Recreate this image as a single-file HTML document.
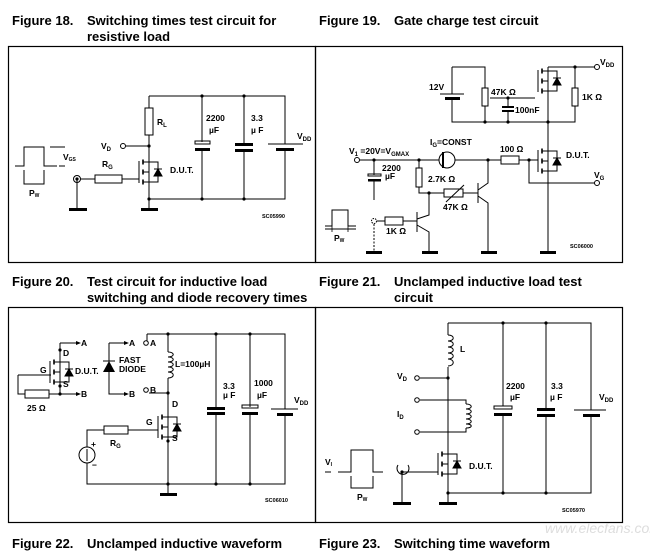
<!DOCTYPE html>
<html><head><meta charset="utf-8"><style>
body{margin:0;background:#fff;width:650px;height:555px;overflow:hidden}
svg{display:block}
.cap{font:bold 13px "Liberation Sans",sans-serif;fill:#000}
.l{font:bold 8.5px "Liberation Sans",sans-serif;fill:#000}
.s{font:bold 5.5px "Liberation Sans",sans-serif;fill:#000}
</style></head><body>
<svg width="650" height="555" viewBox="0 0 650 555" xmlns="http://www.w3.org/2000/svg">
<defs>
<g id="fet" fill="none" stroke="#000" stroke-width="1">
 <path d="M0,0V4H-6M-6,24H0V28M0,4V24M-6,14H0"/>
 <path d="M-6,1.5V6.5M-6,11.5V16.5M-6,21.5V26.5" stroke-width="1.6"/>
 <path d="M-10,3V25"/>
 <path d="M0,4H9V24H0"/>
 <path d="M5,18H13L9,11Z" fill="#000"/>
 <path d="M5,11H13"/>
</g>
<g id="dot"><circle r="1.6" fill="#000"/></g>
</defs>
<g fill="none" stroke="#000" stroke-width="1.2">
 <rect x="8.5" y="46.5" width="307" height="216"/>
 <rect x="315.5" y="46.5" width="307" height="216"/>
 <rect x="8.5" y="307.5" width="307" height="215"/>
 <rect x="315.5" y="307.5" width="307" height="215"/>
</g>
<text class="cap" x="12" y="25">Figure 18.</text><text class="cap" x="87" y="25">Switching times test circuit for</text>
<text class="cap" x="87" y="41">resistive load</text>
<text class="cap" x="319" y="25">Figure 19.</text><text class="cap" x="394" y="25">Gate charge test circuit</text>
<text class="cap" x="12" y="286">Figure 20.</text><text class="cap" x="87" y="286">Test circuit for inductive load</text>
<text class="cap" x="87" y="302">switching and diode recovery times</text>
<text class="cap" x="319" y="286">Figure 21.</text><text class="cap" x="394" y="286">Unclamped inductive load test</text>
<text class="cap" x="394" y="302">circuit</text>
<text class="cap" x="12" y="548">Figure 22.</text><text class="cap" x="87" y="548">Unclamped inductive waveform</text>
<text class="cap" x="319" y="548">Figure 23.</text><text class="cap" x="394" y="548">Switching time waveform</text>
<text x="545" y="533" style="font:italic 14px 'Liberation Sans',sans-serif;fill:#ddd">www.elecfans.com</text>

<!-- FIG 18 -->
<g fill="none" stroke="#000" stroke-width="1">
 <path d="M149,96H285V144M285,149V199H149M149,96V108M149,135V158M202,96V142M202,149V199M244,96V144M244,150V199"/>
 <rect x="145" y="108" width="8" height="27"/>
 <path d="M126,146H149"/><circle cx="123" cy="146" r="2.5"/>
 <path d="M149,186V209M77,179V209M80,179H95M122,179H139"/>
 <circle cx="77" cy="179" r="3.5"/>
 <rect x="95" y="175" width="27" height="8"/>
 <rect x="195" y="141" width="15" height="3"/>
 <path d="M268,144H303"/>
 <path d="M15,166H24V147H44V166H57M50,147H65M50,166H54M59,166H65M24,170V184H44V170"/>
</g>
<use href="#fet" x="149" y="158"/>
<g fill="#000"><rect x="69" y="208" width="18" height="3"/><rect x="141" y="208" width="17" height="3"/>
<rect x="195" y="148" width="15" height="3"/><rect x="235" y="143" width="18" height="3"/><rect x="235" y="149" width="18" height="3"/><rect x="276" y="148" width="18" height="3"/></g>
<use href="#dot" x="202" y="96"/><use href="#dot" x="244" y="96"/><use href="#dot" x="149" y="146"/><use href="#dot" x="149" y="199"/><use href="#dot" x="202" y="199"/><use href="#dot" x="244" y="199"/><use href="#dot" x="77" y="179"/>
<text class="l" x="157" y="125">R<tspan font-size="6" dy="2">L</tspan></text>
<text class="l" x="101" y="149">V<tspan font-size="6" dy="2">D</tspan></text>
<text class="l" x="102" y="167">R<tspan font-size="6" dy="2">G</tspan></text>
<text class="l" x="170" y="173">D.U.T.</text>
<text class="l" x="206" y="121">2200</text><text class="l" x="209" y="133">µF</text>
<text class="l" x="251" y="121">3.3</text><text class="l" x="251" y="133">µ F</text>
<text class="l" x="297" y="139">V<tspan font-size="6" dy="2">DD</tspan></text>
<text class="l" x="63" y="160" font-size="7">V<tspan font-size="5" dy="1">GS</tspan></text>
<text class="l" x="29" y="196" font-size="7">P<tspan font-size="5" dy="1">W</tspan></text>
<text class="s" x="262" y="218">SC05990</text>

<!-- FIG 19 -->
<g fill="none" stroke="#000" stroke-width="1">
 <path d="M548,67H595M452,67H485V88M452,67V94M452,98V122H575V106M485,106V122M575,88V67M490,98H535M508,98V107M508,111V122"/>
 <path d="M440,94H464"/>
 <rect x="482" y="88" width="6" height="18"/>
 <rect x="572" y="88" width="6" height="18"/>
 <path d="M548,95V147M548,175V252"/>
 <path d="M360,160H439M455,160H501M519,160H538M529,160V183H595"/>
 <circle cx="597" cy="67" r="2.5"/><circle cx="597" cy="183" r="2.5"/><circle cx="357" cy="160" r="2.5"/>
 <circle cx="447" cy="160" r="8"/>
 <rect x="501" y="156" width="18" height="8"/>
 <path d="M374,160V175M374,180V200M419,160V168M419,187V193H444M463,193H478M488,160V183L478,190M478,196L488,203V252"/>
 <rect x="416" y="168" width="6" height="19"/>
 <rect x="444" y="189" width="19" height="8"/>
 <path d="M446,202L464,185"/>
 <path d="M478,183V203M417,212V232M429,193V215L417,219M417,225L429,232V252M403,221H417"/>
 <rect x="385" y="217" width="18" height="8"/>
 <path d="M377,221H385"/>
 <path d="M374,224V252" stroke-dasharray="2,1.5"/>
 <circle cx="374" cy="221" r="2.5" stroke-dasharray="1.5,1"/>
 <path d="M325,226H332V210H348V226H356M325,229H356"/>
 <path d="M332,226V232M348,226V232" stroke-width="0.8"/>
</g>
<use href="#fet" x="548" y="67" transform=""/>
<use href="#fet" x="548" y="147"/>
<g fill="#000"><rect x="368" y="174" width="13" height="2" fill="none" stroke="#000"/><rect x="368" y="179" width="13" height="2.5"/>
<rect x="502" y="106" width="12" height="2"/><rect x="502" y="110" width="12" height="2"/>
<rect x="445" y="97" width="15" height="3"/>
<rect x="366" y="251" width="16" height="3"/><rect x="422" y="251" width="16" height="3"/><rect x="481" y="251" width="16" height="3"/><rect x="540" y="251" width="16" height="3"/>
<rect x="442" y="152" width="2" height="16"/></g>
<use href="#dot" x="575" y="67"/><use href="#dot" x="485" y="122"/><use href="#dot" x="508" y="122"/><use href="#dot" x="548" y="122"/><use href="#dot" x="508" y="98"/>
<use href="#dot" x="374" y="160"/><use href="#dot" x="419" y="160"/><use href="#dot" x="488" y="160"/><use href="#dot" x="529" y="160"/><use href="#dot" x="429" y="193"/>
<text class="l" x="429" y="90">12V</text>
<text class="l" x="491" y="95">47K Ω</text>
<text class="l" x="515" y="113">100nF</text>
<text class="l" x="582" y="100">1K Ω</text>
<text class="l" x="600" y="65">V<tspan font-size="6" dy="2">DD</tspan></text>
<text class="l" x="566" y="158">D.U.T.</text>
<text class="l" x="594" y="178">V<tspan font-size="6" dy="2">G</tspan></text>
<text class="l" x="500" y="152">100 Ω</text>
<text class="l" x="430" y="145">I<tspan font-size="6" dy="2">G</tspan><tspan dy="-2">=CONST</tspan></text>
<text class="l" x="349" y="154">V<tspan font-size="6" dy="2">1</tspan><tspan dy="-2"> =20V=V</tspan><tspan font-size="6" dy="2">GMAX</tspan></text>
<text class="l" x="382" y="171">2200</text><text class="l" x="385" y="179">µF</text>
<text class="l" x="428" y="182">2.7K Ω</text>
<text class="l" x="443" y="210">47K Ω</text>
<text class="l" x="386" y="234">1K Ω</text>
<text class="l" x="334" y="241" font-size="7">P<tspan font-size="5" dy="1">W</tspan></text>
<text class="s" x="570" y="248">SC06000</text>

<!-- FIG 20 -->
<g fill="none" stroke="#000" stroke-width="1">
 <path d="M147,334H285V409M285,414V484H87V463M87,447V430H104M128,430H158M168,334V352M168,378V413M168,441V494"/>
 <path d="M147,334V341M149,393H168"/>
 <circle cx="146" cy="343" r="2.3"/><circle cx="146" cy="390" r="2.3"/>
 <path d="M168,352c7,0 7,5 0,5c7,0 7,5 0,5c7,0 7,5 0,5c7,0 7,5 0,5c7,0 7,6 0,6" />
 <rect x="104" y="426" width="24" height="8"/>
 <circle cx="87" cy="455" r="8"/><path d="M87,449V461"/>
 <path d="M216,334V408M216,413V484M250,334V407M250,413V484"/>
 <rect x="242" y="405" width="16" height="3"/>
 <path d="M271,409H298"/>
 <path d="M60,343H76M60,343V358M60,386V394H76M18,375H51M18,375V394H25M49,394H60"/>
 <rect x="25" y="390" width="24" height="8"/>
 <path d="M109,343H124M109,343V394H124"/>
 <path d="M103,361H115"/>
</g>
<g fill="#000">
 <path d="M76,341L81,343L76,345Z"/><path d="M76,392L81,394L76,396Z"/>
 <path d="M124,341L129,343L124,345Z"/><path d="M124,392L129,394L124,396Z"/>
 <path d="M103,372H115L109,361Z"/>
 <rect x="160" y="493" width="17" height="3"/>
 <rect x="207" y="407" width="18" height="3"/><rect x="207" y="412" width="18" height="3"/>
 <rect x="242" y="412" width="16" height="3"/><rect x="277" y="413" width="16" height="3"/>
</g>
<use href="#fet" x="168" y="413"/>
<use href="#fet" x="60" y="358"/>
<use href="#dot" x="168" y="334"/><use href="#dot" x="216" y="334"/><use href="#dot" x="250" y="334"/><use href="#dot" x="168" y="393"/><use href="#dot" x="168" y="484"/><use href="#dot" x="216" y="484"/><use href="#dot" x="250" y="484"/><use href="#dot" x="168" y="441"/>
<use href="#dot" x="60" y="350"/><use href="#dot" x="60" y="386"/><use href="#dot" x="60" y="394"/>
<text class="l" x="81" y="346">A</text><text class="l" x="81" y="397">B</text>
<text class="l" x="129" y="346">A</text><text class="l" x="129" y="397">B</text>
<text class="l" x="150" y="346">A</text><text class="l" x="150" y="393">B</text>
<text class="l" x="63" y="356">D</text><text class="l" x="63" y="387">S</text><text class="l" x="40" y="373">G</text>
<text class="l" x="75" y="374">D.U.T.</text>
<text class="l" x="119" y="363" font-size="7">FAST</text><text class="l" x="119" y="372" font-size="7">DIODE</text>
<text class="l" x="27" y="411">25 Ω</text>
<text class="l" x="175" y="367">L=100µH</text>
<text class="l" x="172" y="407">D</text><text class="l" x="172" y="441">S</text><text class="l" x="146" y="425">G</text>
<text class="l" x="110" y="446">R<tspan font-size="6" dy="2">G</tspan></text>
<text class="l" x="91" y="447">+</text><text class="l" x="92" y="468">−</text>
<text class="l" x="223" y="389">3.3</text><text class="l" x="223" y="398">µ F</text>
<text class="l" x="254" y="386">1000</text><text class="l" x="257" y="398">µF</text>
<text class="l" x="294" y="403">V<tspan font-size="6" dy="2">DD</tspan></text>
<text class="s" x="265" y="502">SC06010</text>

<!-- FIG 21 -->
<g fill="none" stroke="#000" stroke-width="1">
 <path d="M448,323H591V410M591,416V493H448M448,323V335M448,367V450M448,478V503"/>
 <path d="M448,335c7,0 7,6 0,6c7,0 7,6 0,6c7,0 7,6 0,6c7,0 7,6 0,6c7,0 7,7 0,7"/>
 <path d="M420,378H448M420,400H466V404M420,432H466V428"/>
 <path d="M466,404c7,0 7,5 0,5c7,0 7,5 0,5c7,0 7,5 0,5c7,0 7,5 0,5c7,0 7,4 0,4"/>
 <circle cx="417" cy="378" r="2.3"/><circle cx="417" cy="400" r="2.3"/><circle cx="417" cy="432" r="2.3"/>
 <path d="M503,323V406M503,415V493M546,323V410M546,416V493"/>
 <rect x="494" y="406" width="18" height="3"/>
 <path d="M574,410H606"/>
 <path d="M402,472H438M402,472V503"/>
 <path d="M398,465A6,6 0 1,0 408,465"/>
 <path d="M325,472H331M338,472H351V450H373V472H383M351,476V488H373V476"/>
</g>
<use href="#fet" x="448" y="450"/>
<g fill="#000"><rect x="494" y="413" width="18" height="3"/><rect x="537" y="408" width="18" height="3"/><rect x="537" y="414" width="18" height="3"/><rect x="583" y="414" width="17" height="3"/>
<rect x="393" y="502" width="18" height="3"/><rect x="439" y="502" width="18" height="3"/></g>
<use href="#dot" x="503" y="323"/><use href="#dot" x="546" y="323"/><use href="#dot" x="448" y="378"/><use href="#dot" x="448" y="493"/><use href="#dot" x="503" y="493"/><use href="#dot" x="546" y="493"/><use href="#dot" x="402" y="472"/>
<text class="l" x="460" y="352">L</text>
<text class="l" x="397" y="379">V<tspan font-size="6" dy="2">D</tspan></text>
<text class="l" x="397" y="417">I<tspan font-size="6" dy="2">D</tspan></text>
<text class="l" x="469" y="469">D.U.T.</text>
<text class="l" x="506" y="389">2200</text><text class="l" x="510" y="400">µF</text>
<text class="l" x="551" y="389">3.3</text><text class="l" x="550" y="400">µ F</text>
<text class="l" x="599" y="400">V<tspan font-size="6" dy="2">DD</tspan></text>
<text class="l" x="325" y="465" font-size="7">V<tspan font-size="5" dy="1">I</tspan></text>
<text class="l" x="357" y="500" font-size="7">P<tspan font-size="5" dy="1">W</tspan></text>
<text class="s" x="562" y="512">SC05970</text>
</svg>
</body></html>
